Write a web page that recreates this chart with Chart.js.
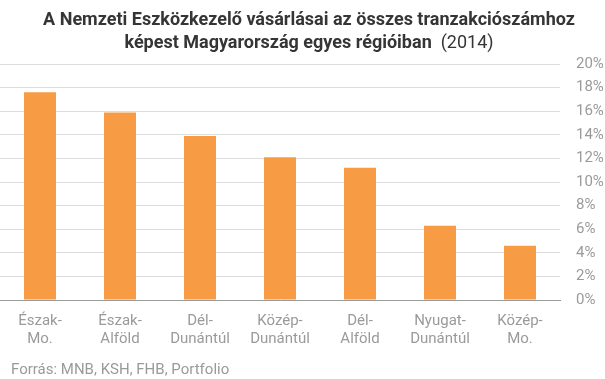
<!DOCTYPE html>
<html>
<head>
<meta charset="utf-8">
<script src="https://cdn.jsdelivr.net/npm/chart.js@4/dist/chart.umd.min.js"></script>
<style>
  html, body { margin: 0; padding: 0; background: #fff; }
  #wrap { width: 605px; height: 379px; position: relative; }
</style>
</head>
<body>
<div id="wrap"><canvas id="c" width="605" height="379"></canvas></div>
<script>
const categories = [["Észak-","Mo."],["Észak-","Alföld"],["Dél-","Dunántúl"],["Közép-","Dunántúl"],["Dél-","Alföld"],["Nyugat-","Dunántúl"],["Közép-","Mo."]];
const values = [17.6, 15.9, 13.9, 12.1, 11.2, 6.3, 4.6];
const titleLine1 = "A Nemzeti Eszközkezelő vásárlásai az összes tranzakciószámhoz";
const titleLine2Bold = "képest Magyarország egyes régióiban";
const titleLine2Normal = "(2014)";
const sourceText = "Forrás: MNB, KSH, FHB, Portfolio";

const FONT = "Roboto";
const textPlugin = {
  id: 'texts',
  afterDraw(chart) {
    const ctx = chart.ctx;
    ctx.save();
    ctx.fillStyle = '#353535';
    ctx.textBaseline = 'alphabetic';
    ctx.font = `bold 18px ${FONT}`;
    const cx = 309;
    ctx.textAlign = 'center';
    ctx.fillText(titleLine1, cx, 25);
    const wB = ctx.measureText(titleLine2Bold + "  ").width;
    ctx.font = `18px ${FONT}`;
    const wN = ctx.measureText(titleLine2Normal).width;
    const start = cx - (wB + wN) / 2;
    ctx.textAlign = 'left';
    ctx.font = `bold 18px ${FONT}`;
    ctx.fillText(titleLine2Bold, start, 48);
    ctx.font = `18px ${FONT}`;
    ctx.fillText(titleLine2Normal, start + wB, 48);
    ctx.fillStyle = '#9a9a9a';
    ctx.font = `15px ${FONT}`;
    ctx.fillText(sourceText, 11, 374);
    ctx.restore();
  }
};

new Chart(document.getElementById('c'), {
  type: 'bar',
  data: {
    labels: categories,
    datasets: [{
      data: values,
      backgroundColor: '#F79C45',
      categoryPercentage: 1.0,
      barPercentage: 0.4
    }]
  },
  options: {
    responsive: false,
    animation: false,
    layout: { padding: { top: 64, left: 0, right: 0, bottom: 29 } },
    plugins: { legend: { display: false }, tooltip: { enabled: false }, title: { display: false } },
    scales: {
      x: {
        grid: { display: false, drawTicks: false },
        border: { display: true, color: '#9a9a9a', width: 1 },
        ticks: { color: '#9a9a9a', font: { family: FONT, size: 15, lineHeight: 1.2 }, padding: 12, maxRotation: 0, autoSkip: false },
        afterFit(s) { s.height = 50; }
      },
      y: {
        position: 'right',
        min: 0, max: 20,
        grid: { color: '#dcdcdc', lineWidth: 1, drawTicks: false },
        border: { display: false },
        ticks: { stepSize: 2, color: '#9a9a9a', font: { family: FONT, size: 15 }, padding: 16, callback: v => v + '%' },
        afterFit(s) { s.width = 45; }
      }
    }
  },
  plugins: [textPlugin]
});
</script>
</body>
</html>
